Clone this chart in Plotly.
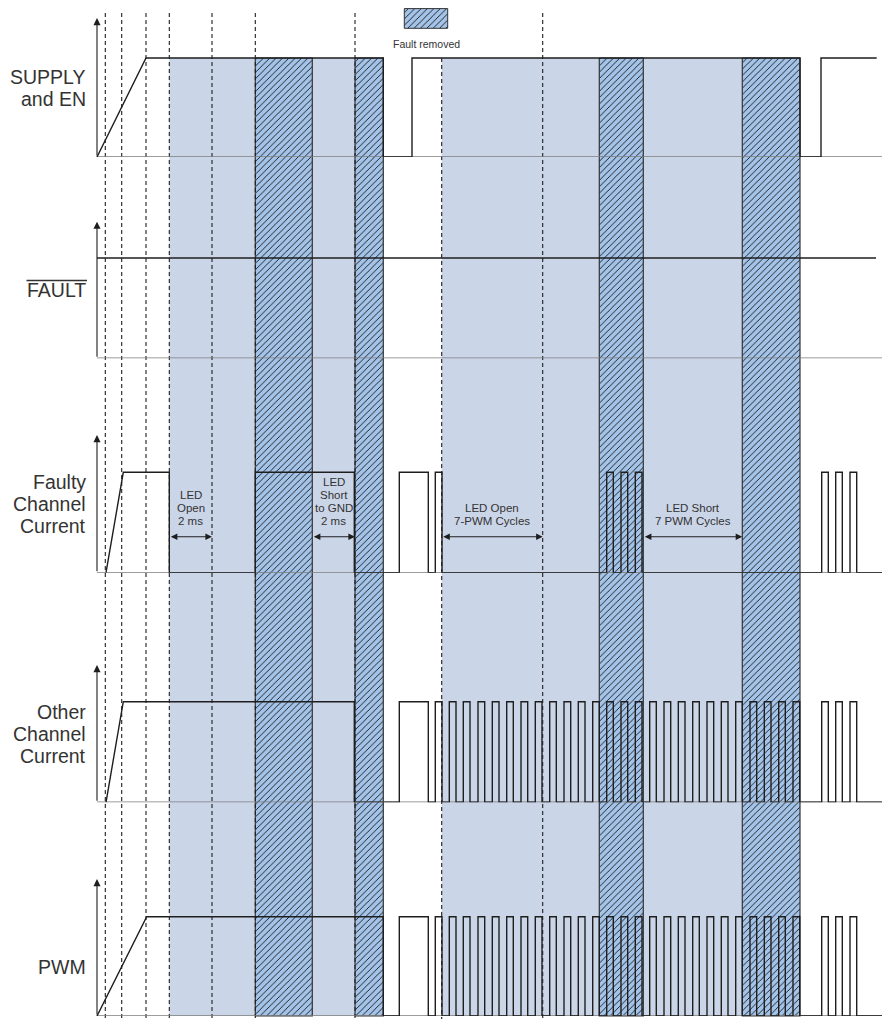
import plotly.graph_objects as go

W, H = 890, 1019
OFF = 8  # page body margin in the browser

# ---------------- data (horizontal unit = time) ----------------
T_AXIS = 97.0
T_END = 890.0

DASHED_T = [105.3, 121.7, 146.0, 169.3, 212.0, 255.3, 355.0, 542.7]
DASHED_REGION_T = [441.7]

OPEN_START = [169.3, 312.3, 441.7, 643.3]
OPEN_END = [255.3, 355.0, 599.3, 742.3]
REMOVED_START = [255.3, 355.0, 599.3, 742.3]
REMOVED_END = [312.3, 383.3, 643.3, 800.0]

SUPPLY_RAMP = [97.0, 146.0]
SUPPLY_RISE = [412.0, 821.0]
SUPPLY_FALL = [383.3, 800.0]
SUPPLY_STOP = 876.7

FAULT_STOP = 876.0

FAULTY_RAMP = [106.0, 123.3]
FAULTY_RISE = [255.3, 399.3, 435.3, 606.7, 621.0, 635.3, 821.7, 835.7, 850.0]
FAULTY_FALL = [169.3, 354.3, 428.3, 442.0, 613.3, 627.7, 642.0, 828.3, 842.3, 856.7]

PWM_RISE = [435.3, 449.3, 463.3, 478.0, 492.3, 506.7, 521.0, 535.3, 549.7, 564.0, 578.3,
            592.7, 606.7, 621.0, 635.3, 649.7, 664.0, 678.3, 692.7, 707.0, 721.3, 735.7,
            750.0, 764.3, 778.7, 793.0]
PWM_FALL = [442.0, 456.0, 470.0, 484.7, 499.0, 513.3, 527.7, 542.0, 556.3, 570.7, 585.0,
            599.3, 613.3, 627.7, 642.0, 656.3, 670.7, 685.0, 699.3, 713.7, 728.0, 742.3,
            756.7, 771.0, 785.3, 799.7]
TAIL_RISE = [821.7, 835.7, 850.0]
TAIL_FALL = [828.3, 842.3, 856.7]

OTHER_RAMP = [106.0, 123.3]
OTHER_RISE = [399.3] + PWM_RISE + TAIL_RISE
OTHER_FALL = [354.3, 428.3] + PWM_FALL + TAIL_FALL

PWMSIG_RAMP = [97.0, 146.7]
PWMSIG_RISE = [399.3] + PWM_RISE + TAIL_RISE
PWMSIG_FALL = [383.3, 428.3] + PWM_FALL + TAIL_FALL

LANE_LABELS = [["SUPPLY", "and EN"], ["FAULT"], ["Faulty", "Channel", "Current"],
               ["Other", "Channel", "Current"], ["PWM"]]

SPANS = [  # (start, end, text lines)
    (169.3, 212.0, ["LED", "Open", "2 ms"]),
    (312.3, 355.0, ["LED", "Short", "to GND", "2 ms"]),
    (441.7, 542.7, ["LED Open", "7-PWM Cycles"]),
    (643.3, 742.3, ["LED Short", "7 PWM Cycles"]),
]

# ---------------- layout geometry (pixels of the page) ----------------
# (baseline, high level, arrow top)
LANES = [(157.0, 58.0, 18.0), (358.3, 258.0, 221.7), (572.7, 472.3, 435.0),
         (802.3, 701.7, 665.0), (1016.0, 916.7, 879.0)]
LABEL_Y = [[77, 99], [290], [482, 504, 526], [712, 734, 756], [967]]
REGION_TOP, REGION_BOT = 58.0, 1016.0
DASH_TOP = 13.0

FW, FH = W - OFF, H - OFF  # figure size

FONT = "Liberation Sans, Arial, sans-serif"
LIGHT = "#CBD5E8"
HATCH_BG = "#A4C3E8"
INK = "#1e1e1e"
GRAY = "#7d7d7d"


def paper_y(py):
    return 1 - (py - OFF) / FH


def wave(ramp, rises, falls, stop):
    xs = [ramp[0], ramp[1]]
    ys = [0, 1]
    level = 1
    ev = sorted([(t, 1) for t in rises] + [(t, 0) for t in falls])
    for t, l in ev:
        xs += [t, t]
        ys += [level, l]
        level = l
    xs.append(stop)
    ys.append(level)
    return xs, ys


def rects(starts, ends, top, bot):
    xs, ys = [], []
    for s, e in zip(starts, ends):
        xs += [s, e, e, s, s, None]
        ys += [top, top, bot, bot, top, None]
    return xs, ys


fig = go.Figure()

# light regions
x, y = rects(OPEN_START, OPEN_END, REGION_TOP, REGION_BOT)
fig.add_trace(go.Scatter(x=x, y=y, mode="lines", fill="toself", fillcolor=LIGHT,
                         line=dict(width=0), hoverinfo="skip", xaxis="x", yaxis="y"))

# hatched regions (fault removed)
hatch = dict(shape="/", fgcolor="#151515", bgcolor=HATCH_BG, size=4.5, solidity=0.2,
             fillmode="replace")
x, y = rects(REMOVED_START, REMOVED_END, REGION_TOP, REGION_BOT)
fig.add_trace(go.Scatter(x=x, y=y, mode="lines", fill="toself", fillpattern=hatch,
                         line=dict(width=1.2, color="#333333"), hoverinfo="skip",
                         xaxis="x", yaxis="y"))
# legend swatch
x, y = rects([404.3], [447.7], 8.6, 28.3)
fig.add_trace(go.Scatter(x=x, y=y, mode="lines", fill="toself", fillpattern=hatch,
                         line=dict(width=1, color="#333333"), hoverinfo="skip",
                         xaxis="x", yaxis="y"))

# dashed lines
dx, dy = [], []
for t in DASHED_T:
    dx += [t, t, None]
    dy += [DASH_TOP, H, None]
for t in DASHED_REGION_T:
    dx += [t, t, None]
    dy += [REGION_TOP, H, None]
fig.add_trace(go.Scatter(x=dx, y=dy, mode="lines",
                         line=dict(color=INK, width=1.1, dash="4px,3px"),
                         hoverinfo="skip", xaxis="x", yaxis="y"))

# waveforms
waves = [
    wave(SUPPLY_RAMP, SUPPLY_RISE, SUPPLY_FALL, SUPPLY_STOP),
    ([T_AXIS, FAULT_STOP], [1, 1]),
    wave(FAULTY_RAMP, FAULTY_RISE, FAULTY_FALL, T_END),
    wave(OTHER_RAMP, OTHER_RISE, OTHER_FALL, T_END),
    wave(PWMSIG_RAMP, PWMSIG_RISE, PWMSIG_FALL, T_END),
]

layout_axes = {}
annotations = []
for i, ((b, h, a), (wx, wy)) in enumerate(zip(LANES, waves)):
    yname = "y%d" % (i + 2)
    rng_top = (b - a) / (b - h)
    layout_axes["yaxis%d" % (i + 2)] = dict(domain=[paper_y(b), paper_y(a)], range=[0, rng_top],
                                           visible=False, fixedrange=True, anchor="x")
    # baseline axis
    fig.add_trace(go.Scatter(x=[T_AXIS, T_END], y=[0, 0], mode="lines",
                             line=dict(color=GRAY, width=1.6), hoverinfo="skip",
                             xaxis="x", yaxis=yname))
    fig.add_trace(go.Scatter(x=wx, y=wy, mode="lines",
                             line=dict(color=INK, width=1.4), hoverinfo="skip",
                             xaxis="x", yaxis=yname))
    # vertical axis arrow
    annotations.append(dict(x=T_AXIS, y=rng_top, xref="x", yref=yname,
                            ax=T_AXIS, ay=0, axref="x", ayref=yname, text="",
                            showarrow=True, arrowhead=2, arrowsize=1.3, arrowwidth=1.1,
                            arrowcolor=INK, standoff=0))
    for txt, ly in zip(LANE_LABELS[i], LABEL_Y[i]):
        annotations.append(dict(x=87.5, y=ly, xref="x", yref="y", text=txt,
                                showarrow=False, xanchor="right", yanchor="middle",
                                font=dict(family=FONT, size=19.5, color="#333333")))

# FAULT overline
fig.add_trace(go.Scatter(x=[26.5, 87.0], y=[280.5, 280.5], mode="lines",
                         line=dict(color="#333333", width=1.4), hoverinfo="skip",
                         xaxis="x", yaxis="y"))

# span annotations
ARROW_Y = 536.7
for s, e, lines in SPANS:
    n = len(lines)
    cx = (s + e) / 2
    ys = [520.7 - 12.8 * (n - 1 - k) for k in range(n)]
    for txt, ly in zip(lines, ys):
        annotations.append(dict(x=cx, y=ly, xref="x", yref="y", text=txt, showarrow=False,
                                xanchor="center", yanchor="middle",
                                font=dict(family=FONT, size=11.5, color="#333333")))
    annotations.append(dict(x=e, y=ARROW_Y, xref="x", yref="y", ax=s, ay=ARROW_Y,
                            axref="x", ayref="y", text="", showarrow=True,
                            arrowhead=2, startarrowhead=2, arrowside="end+start",
                            arrowsize=1.2, startarrowsize=1.2, arrowwidth=1.1,
                            arrowcolor=INK, standoff=0, startstandoff=0))

annotations.append(dict(x=426.5, y=44.3, xref="x", yref="y", text="Fault removed",
                        showarrow=False, xanchor="center", yanchor="middle",
                        font=dict(family=FONT, size=10.5, color="#333333")))

fig.update_layout(
    width=FW, height=FH, margin=dict(l=0, r=0, t=0, b=0),
    paper_bgcolor="white", plot_bgcolor="rgba(0,0,0,0)", showlegend=False,
    xaxis=dict(range=[OFF, W], domain=[0, 1], visible=False, fixedrange=True),
    yaxis=dict(range=[H, OFF], domain=[0, 1], visible=False, fixedrange=True),
    annotations=annotations,
    **layout_axes,
)

fig.write_html("out.html")
